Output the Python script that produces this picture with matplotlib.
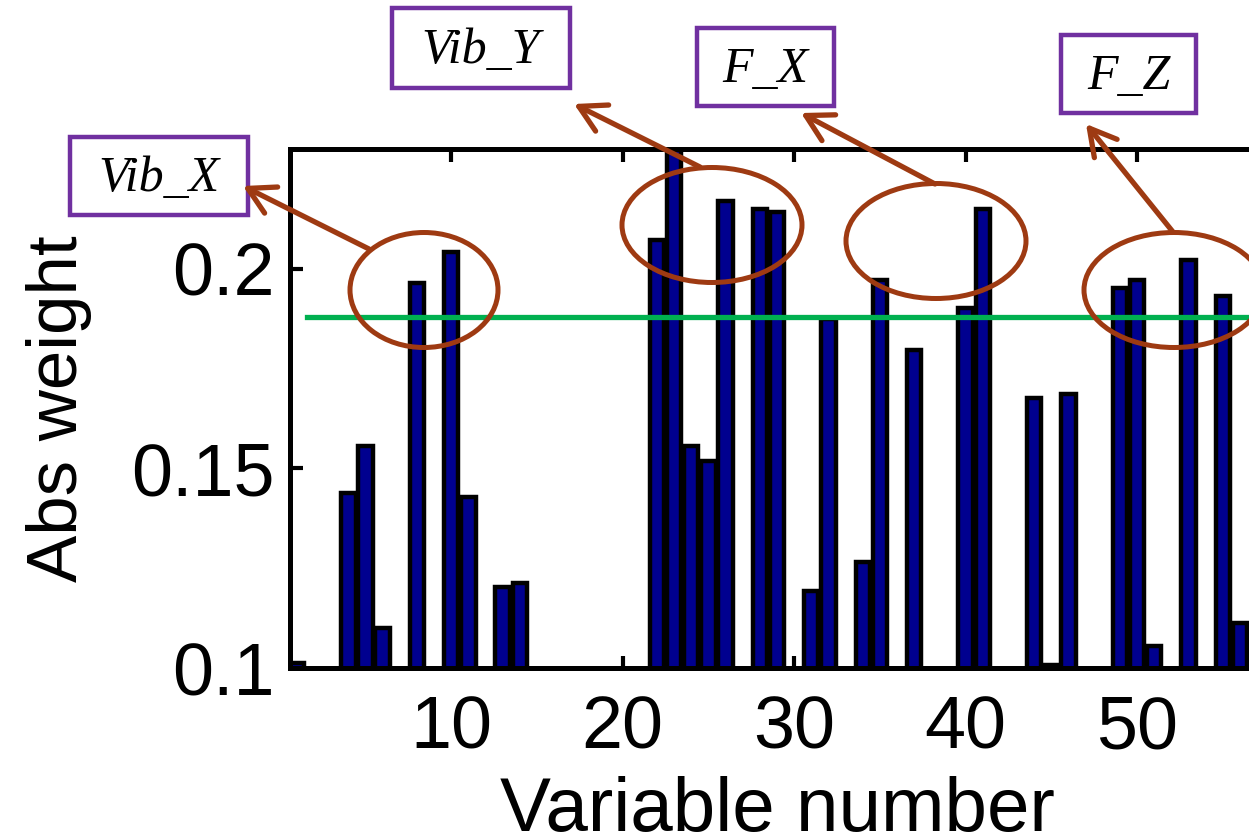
import matplotlib
matplotlib.use("Agg")
import matplotlib.pyplot as plt
import matplotlib.transforms as mtransforms
from matplotlib.patches import Ellipse, Rectangle, FancyArrowPatch

# only variables whose weight clears the 0.1 floor of the axis are listed
variables = [1, 4, 5, 6, 8, 10, 11, 13, 14,
             22, 23, 24, 25, 26, 28, 29,
             31, 32, 34, 35, 37, 40, 41,
             44, 45, 46, 49, 50, 51, 53, 55, 56]
abs_weight = [0.1012, 0.1439, 0.1556, 0.1101, 0.1965, 0.2041, 0.1428, 0.1202, 0.1212,
              0.2071, 0.2320, 0.1556, 0.1519, 0.2170, 0.2149, 0.2142,
              0.1192, 0.1874, 0.1265, 0.1973, 0.1796, 0.1902, 0.2149,
              0.1677, 0.1008, 0.1686, 0.1953, 0.1973, 0.1054, 0.2021, 0.1933, 0.1112]
threshold = 0.188

x_ticks = [10, 20, 30, 40, 50]
y_ticks = [0.1, 0.15, 0.2]
y_tick_labels = ["0.1", "0.15", "0.2"]

sensor_names = ["Vib_X", "Vib_Y", "F_X", "F_Z"]

W, H = 1249, 832
BAR_COLOR = "#00008F"
RING_COLOR = "#9E3A12"
BOX_COLOR = "#7030A0"
LINE_COLOR = "#00B050"

plt.rcParams["font.family"] = ["Liberation Sans", "DejaVu Sans"]

fig = plt.figure(figsize=(W / 100, H / 100), dpi=100)
ax = fig.add_axes([290 / W, 1 - 668 / H, (1264 - 290) / W, (668 - 149) / H])

ax.bar(variables, abs_weight, width=0.84, color=BAR_COLOR, edgecolor="black",
       linewidth=3.2, zorder=2)
ax.plot([1.6, 57.4], [threshold, threshold], color=LINE_COLOR, lw=3.8, zorder=3)

ax.set_xlim(0.6, 57.4)
ax.set_ylim(0.1, 0.23)
ax.set_xticks(x_ticks)
ax.set_yticks(y_ticks)
ax.set_yticklabels(y_tick_labels)
for spine in ax.spines.values():
    spine.set_linewidth(3.6)
ax.tick_params(direction="in", length=9, width=3, top=True, right=True,
               labelsize=53)
ax.tick_params(axis="x", pad=19)
ax.tick_params(axis="y", pad=11)
ax.set_xlabel("Variable number", fontsize=55, labelpad=9)
ax.set_ylabel("Abs weight", fontsize=51, labelpad=28)

# overlay drawn in pixel units measured from the top-left corner
top_px = mtransforms.Affine2D().scale(1 / W, -1 / H).translate(0, 1) + fig.transFigure

rings = [((424, 290), 148, 115), ((712, 225), 180, 115),
         ((936, 241), 180, 115), ((1174, 290), 180, 115)]
boxes = [(70, 137, 178, 78), (392, 8, 178, 80), (697, 28, 137, 78), (1061, 35, 135, 78)]
arrows = [((369, 249), (243, 186)), ((700, 167), (574, 104)),
          ((935, 184), (801, 113)), ((1173, 232), (1086, 124))]

for (centre, w, h), (bx, by, bw, bh), (start, tip), name in zip(rings, boxes, arrows, sensor_names):
    fig.add_artist(Ellipse(centre, w, h, transform=top_px, fill=False,
                           edgecolor=RING_COLOR, lw=3.6))
    fig.add_artist(Rectangle((bx, by), bw, bh, transform=top_px, facecolor="white",
                             edgecolor=BOX_COLOR, lw=3.2))
    fig.add_artist(FancyArrowPatch(start, tip, transform=top_px,
                                   arrowstyle="->,head_length=0.75,head_width=0.42",
                                   mutation_scale=25, lw=3.8, color=RING_COLOR,
                                   shrinkA=0, shrinkB=0))
    fig.text(bx + bw / 2, by + bh / 2 + 3, name, transform=top_px, ha="center",
             va="center", fontsize=36, family="Liberation Serif", style="italic")

fig.savefig("out.png", dpi=100)
